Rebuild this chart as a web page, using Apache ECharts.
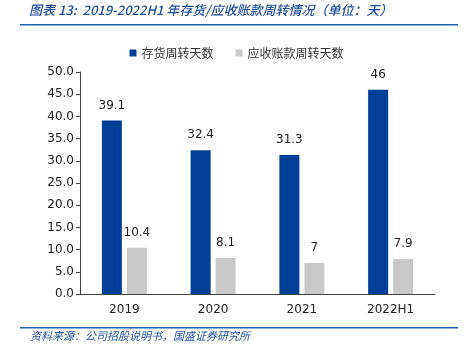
<!DOCTYPE html>
<html>
<head>
<meta charset="utf-8">
<script src="https://cdn.jsdelivr.net/npm/echarts@6/dist/echarts.min.js"></script>
<style>
  html, body { margin: 0; padding: 0; background: #fff; }
  #chart { width: 473px; height: 352px; }
</style>
</head>
<body>
<div id="chart"></div>
<script>
const categories = ['2019', '2020', '2021', '2022H1'];
const inventoryDays = [39.1, 32.4, 31.3, 46];
const receivableDays = [10.4, 8.1, 7, 7.9];
const seriesNames = ['存货周转天数', '应收账款周转天数'];

const chart = echarts.init(document.getElementById('chart'));
const font = '"Noto Sans CJK SC", "DejaVu Sans", sans-serif';

chart.setOption({
  animation: false,
  textStyle: { fontFamily: font },
  graphic: [
    {
      type: 'text', left: 29, top: 4,
      style: {
        text: '图表 13:  2019-2022H1 年存货/应收账款周转情况（单位：天）',
        fill: '#1F4E9A', font: 'italic 500 13px ' + font
      }
    },
    { type: 'rect', shape: { x: 20, y: 24, width: 438, height: 1.5 }, style: { fill: '#1F5FAE' } },
    { type: 'rect', shape: { x: 20, y: 327, width: 438, height: 1.5 }, style: { fill: '#1F5FAE' } },
    {
      type: 'text', left: 30, top: 330,
      style: {
        text: '资料来源：公司招股说明书，国盛证券研究所',
        fill: '#1F4E9A', font: 'italic 11px ' + font
      }
    }
  ],
  legend: {
    top: 42, left: 'center',
    itemWidth: 7, itemHeight: 7, itemGap: 22,
    icon: 'rect',
    textStyle: { fontSize: 12, color: '#333', fontFamily: font },
    data: seriesNames
  },
  grid: { left: 80, right: 38, top: 72, bottom: 58 },
  xAxis: {
    type: 'category',
    data: categories,
    axisLine: { lineStyle: { color: '#444' } },
    axisTick: { alignWithLabel: false, length: 4, lineStyle: { color: '#444' } },
    axisLabel: { color: '#222', fontSize: 12, margin: 10, fontFamily: 'DejaVu Sans' }
  },
  yAxis: {
    type: 'value',
    min: 0, max: 50, interval: 5,
    axisLine: { show: true, lineStyle: { color: '#444' } },
    axisTick: { show: true, length: 4, lineStyle: { color: '#444' } },
    splitLine: { show: false },
    axisLabel: {
      color: '#222', fontSize: 12, margin: 6, fontFamily: 'DejaVu Sans',
      formatter: v => v.toFixed(1)
    }
  },
  series: [
    {
      name: seriesNames[0], type: 'bar', data: inventoryDays,
      barWidth: 20, barGap: '25%',
      itemStyle: { color: '#003F97' },
      label: { show: true, position: 'top', distance: 9, color: '#222', fontSize: 12, fontFamily: 'DejaVu Sans' }
    },
    {
      name: seriesNames[1], type: 'bar', data: receivableDays,
      barWidth: 20,
      itemStyle: { color: '#C9C9C9' },
      label: { show: true, position: 'top', distance: 9, color: '#222', fontSize: 12, fontFamily: 'DejaVu Sans' }
    }
  ]
});
</script>
</body>
</html>
